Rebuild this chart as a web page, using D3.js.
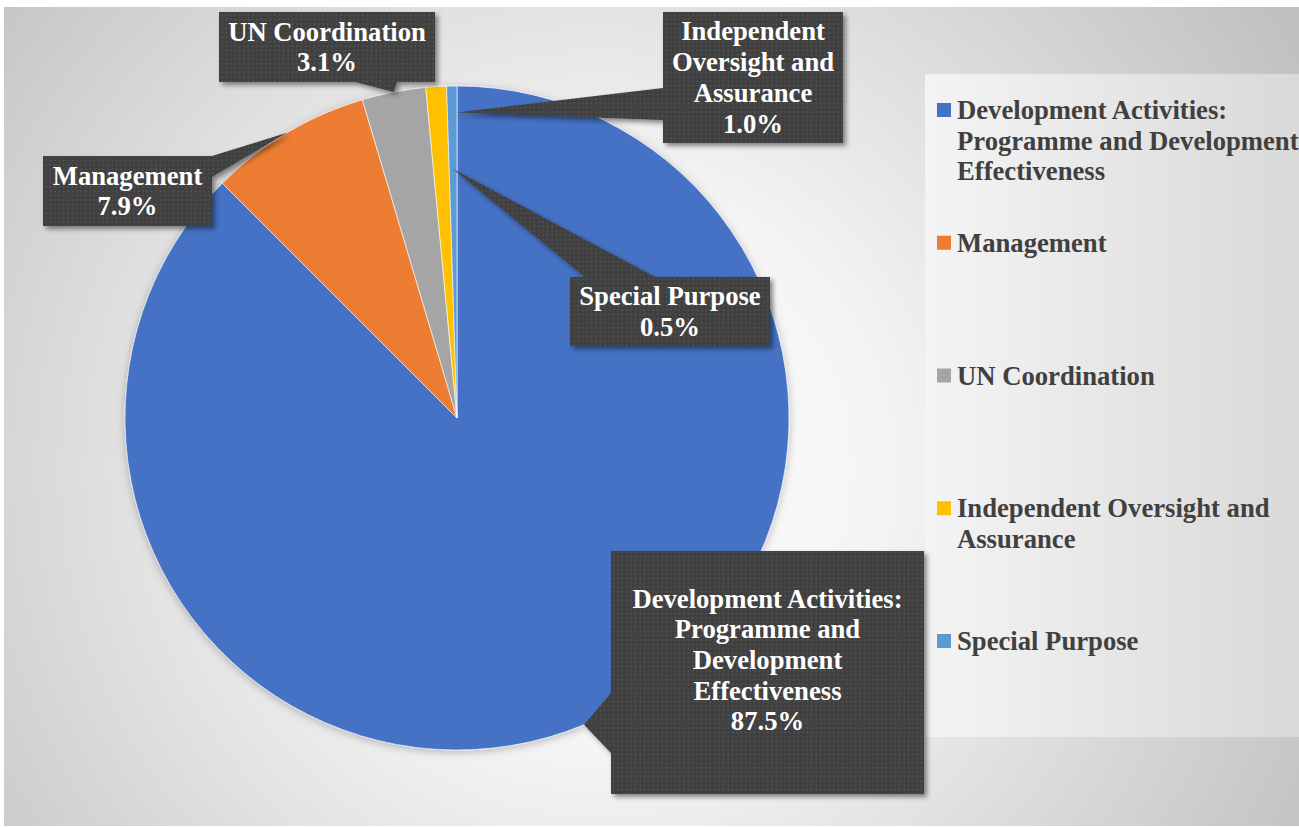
<!DOCTYPE html>
<html lang="en">
  <head>
    <meta charset="UTF-8" />
    <script src="https://d3js.org/d3.v7.min.js"></script>
    <title>Budget by category</title>
    <style>
      body { margin: 0; background: #fff; }
      text { font-family: 'Liberation Serif', 'Times New Roman', serif; font-weight: bold; }
    </style>
  </head>
  <body>
    <svg id="chart" width="1299" height="827"></svg>
    <script>
      // Data
      var categories = [
        'Development Activities: Programme and Development Effectiveness',
        'Management',
        'UN Coordination',
        'Independent Oversight and Assurance',
        'Special Purpose'
      ];
      var values = [87.5, 7.9, 3.1, 1.0, 0.5];
      var colors = ['#4472C4', '#ED7D31', '#A5A5A5', '#FFC000', '#5B9BD5'];
      var legendLines = [
        ['Development Activities:', 'Programme and Development', 'Effectiveness'],
        ['Management'],
        ['UN Coordination'],
        ['Independent Oversight and', 'Assurance'],
        ['Special Purpose']
      ];
      var calloutLines = [
        ['Development Activities:', 'Programme and', 'Development', 'Effectiveness'],
        ['Management'],
        ['UN Coordination'],
        ['Independent', 'Oversight and', 'Assurance'],
        ['Special Purpose']
      ];

      // callout boxes: box, text middle, side with pointer, pointer base, tip radius factor, tip angle nudge
      var callouts = [
        { box: [611, 551, 313, 243], cy: 660, side: 'left', base: [693, 753], tipR: 1.0, nudge: 0 },
        { box: [43, 156, 169, 70], cy: 191, side: 'right', base: [156, 177], tipR: 1.0, nudge: 0 },
        { box: [219, 12, 216, 70], cy: 47, side: 'bottom', base: [355, 397], tipR: 1.0, nudge: 0 },
        { box: [663, 12, 180, 131], cy: 77.5, side: 'left', base: [88, 120], tipR: 0.92, nudge: 3.5 },
        { box: [570, 277, 200, 69], cy: 311.5, side: 'top', base: [585, 655], tipR: 0.75, nudge: 0 }
      ];

      var svg = d3.select('#chart');
      var fontSize = 26.67, lineH = 30.7;
      var cx = 457, cy = 418, radius = 332;

      var defs = svg.append('defs');

      // background gradient
      var bg = defs.append('radialGradient').attr('id', 'bg')
        .attr('gradientUnits', 'userSpaceOnUse')
        .attr('cx', 600).attr('cy', 470).attr('r', 820);
      bg.append('stop').attr('offset', 0).attr('stop-color', '#ffffff');
      bg.append('stop').attr('offset', 0.35).attr('stop-color', '#f4f4f4');
      bg.append('stop').attr('offset', 1).attr('stop-color', '#c0c0c0');

      var lg = defs.append('linearGradient').attr('id', 'legbg')
        .attr('x1', 0).attr('y1', 0).attr('x2', 1).attr('y2', 0);
      lg.append('stop').attr('offset', 0).attr('stop-color', '#f4f4f4');
      lg.append('stop').attr('offset', 1).attr('stop-color', '#d9d9d9');

      // dotted dark fill for the callouts
      var pat = defs.append('pattern').attr('id', 'dots')
        .attr('patternUnits', 'userSpaceOnUse').attr('width', 4.4).attr('height', 4.4);
      pat.append('rect').attr('width', 4.4).attr('height', 4.4).attr('fill', '#404040');
      pat.append('rect').attr('x', 1.4).attr('y', 1.4).attr('width', 1.4).attr('height', 1.4).attr('fill', '#5a5a5a');

      var sh = defs.append('filter').attr('id', 'shadow')
        .attr('x', '-20%').attr('y', '-20%').attr('width', '140%').attr('height', '140%');
      sh.append('feDropShadow').attr('dx', 3).attr('dy', 3).attr('stdDeviation', 2.5)
        .attr('flood-color', '#000').attr('flood-opacity', 0.45);

      var pieSh = defs.append('filter').attr('id', 'pieshadow')
        .attr('x', '-10%').attr('y', '-10%').attr('width', '120%').attr('height', '120%');
      pieSh.append('feDropShadow').attr('dx', 0).attr('dy', 2).attr('stdDeviation', 4)
        .attr('flood-color', '#000').attr('flood-opacity', 0.25);

      svg.append('rect').attr('x', 4).attr('y', 7).attr('width', 1295).attr('height', 819)
        .attr('fill', 'url(#bg)');
      svg.append('rect').attr('x', 925).attr('y', 74).attr('width', 374).attr('height', 663)
        .attr('fill', 'url(#legbg)');

      // Pie
      var pie = d3.pie().sort(null).value(function(d) { return d; });
      var arcs = pie(values);
      var arc = d3.arc().innerRadius(0).outerRadius(radius);

      var g = svg.append('g').attr('transform', 'translate(' + cx + ',' + cy + ')');
      g.append('g').attr('filter', 'url(#pieshadow)')
        .selectAll('path')
        .data(arcs)
        .enter()
        .append('path')
        .attr('d', arc)
        .attr('fill', function(d, i) { return colors[i]; })
        .attr('stroke', 'rgba(255,255,255,0.6)')
        .attr('stroke-width', 1);

      // Callouts
      function tipPoint(d, c) {
        var a = (d.startAngle + d.endAngle) / 2 + c.nudge * Math.PI / 180;
        var r = radius * c.tipR;
        return [cx + r * Math.sin(a), cy - r * Math.cos(a)];
      }

      function calloutPath(c, t) {
        var x = c.box[0], y = c.box[1], w = c.box[2], h = c.box[3];
        var b0 = c.base[0], b1 = c.base[1];
        var p = d3.path();
        p.moveTo(x, y);
        if (c.side === 'top') { p.lineTo(b0, y); p.lineTo(t[0], t[1]); p.lineTo(b1, y); }
        p.lineTo(x + w, y);
        if (c.side === 'right') { p.lineTo(x + w, b0); p.lineTo(t[0], t[1]); p.lineTo(x + w, b1); }
        p.lineTo(x + w, y + h);
        if (c.side === 'bottom') { p.lineTo(b1, y + h); p.lineTo(t[0], t[1]); p.lineTo(b0, y + h); }
        p.lineTo(x, y + h);
        if (c.side === 'left') { p.lineTo(x, b1); p.lineTo(t[0], t[1]); p.lineTo(x, b0); }
        p.closePath();
        return p.toString();
      }

      var labels = svg.append('g');
      arcs.forEach(function(d, i) {
        var c = callouts[i];
        var lines = calloutLines[i].concat([d3.format('.1f')(values[i]) + '%']);
        labels.append('path')
          .attr('d', calloutPath(c, tipPoint(d, c)))
          .attr('fill', 'url(#dots)')
          .attr('filter', 'url(#shadow)');
        var tx = c.box[0] + c.box[2] / 2;
        var top = c.cy - (lines.length - 1) * lineH / 2;
        var txt = labels.append('text')
          .attr('text-anchor', 'middle')
          .attr('font-size', fontSize)
          .attr('fill', '#ffffff');
        lines.forEach(function(l, k) {
          txt.append('tspan').attr('x', tx).attr('y', top + k * lineH)
            .attr('dominant-baseline', 'central').text(l);
        });
      });

      // Legend
      var ly = d3.scaleLinear().domain([0, categories.length - 1]).range([110, 641]);
      var legend = svg.append('g');
      categories.forEach(function(name, i) {
        legend.append('rect')
          .attr('x', 937).attr('y', ly(i) - 7)
          .attr('width', 14).attr('height', 14)
          .attr('fill', colors[i]);
        var t = legend.append('text')
          .attr('font-size', fontSize)
          .attr('fill', '#404040');
        legendLines[i].forEach(function(l, k) {
          t.append('tspan').attr('x', 957).attr('y', ly(i) + k * lineH)
            .attr('dominant-baseline', 'central').text(l);
        });
      });
    </script>
  </body>
</html>
